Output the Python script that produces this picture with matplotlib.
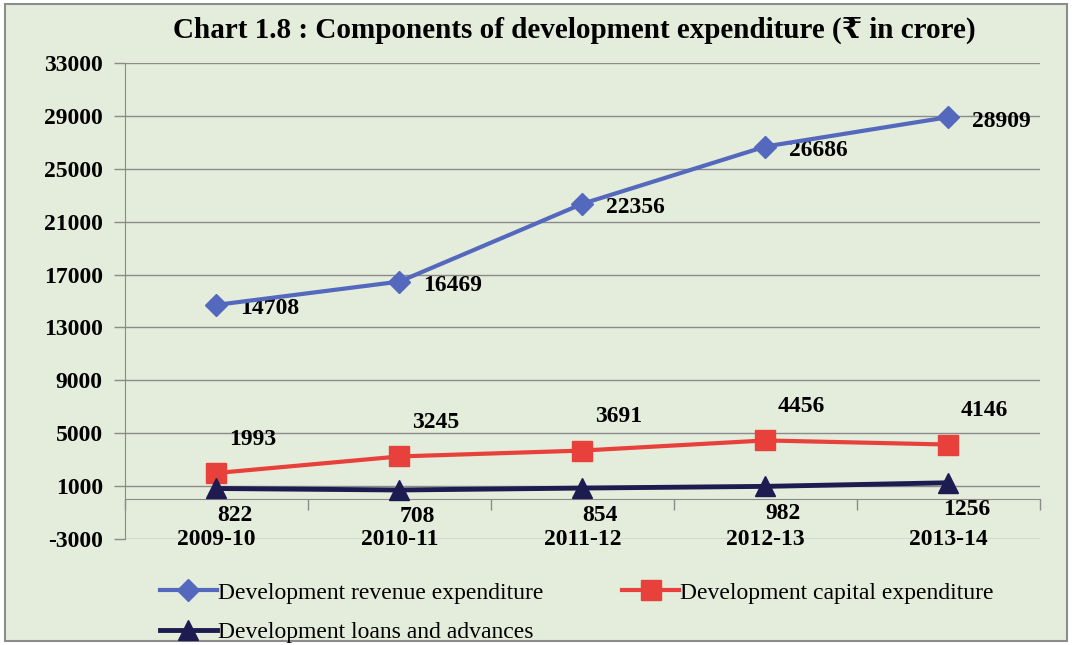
import matplotlib
matplotlib.use("Agg")
import matplotlib.pyplot as plt
from matplotlib.patches import Rectangle

years = ["2009-10", "2010-11", "2011-12", "2012-13", "2013-14"]
revenue = [14708, 16469, 22356, 26686, 28909]
capital = [1993, 3245, 3691, 4456, 4146]
loans = [822, 708, 854, 982, 1256]
y_ticks = list(range(-3000, 33001, 4000))

BG = "#e4ecdb"
GRID = "#8a8a8a"
SERIF = ["Liberation Serif", "DejaVu Serif"]

plt.rcParams["font.family"] = SERIF

fig = plt.figure(figsize=(10.72, 6.45), dpi=100, facecolor="white")
fig.patches.append(Rectangle((0.005, 0.006), 0.99, 0.988, transform=fig.transFigure,
                             facecolor=BG, edgecolor="#8c8c8c", linewidth=1.5, zorder=-10))
ax = fig.add_axes([0.1166, 0.1643, 0.8535, 0.738])
ax.set_facecolor("none")

x = list(range(len(years)))
rev_line, = ax.plot(x, revenue, color="#5468bd", linewidth=3, marker="D", markersize=11,
                    label="Development revenue expenditure", zorder=4)
cap_line, = ax.plot(x, capital, color="#e8403a", linewidth=3, marker="s", markersize=14,
                    label="Development capital expenditure", zorder=4)
loan_line, = ax.plot(x, loans, color="#1c1c50", linewidth=3.5, marker="^", markersize=14,
                     label="Development loans and advances", zorder=5)

label_font = dict(fontsize=17, fontweight="bold", color="black")
for xi, v in zip(x, revenue):
    ax.annotate(str(v), (xi, v), xytext=(24, -4), textcoords="offset pixels",
                ha="left", va="center", **label_font)
for xi, v in zip(x, capital):
    ax.annotate(str(v), (xi, v), xytext=(36, 34), textcoords="offset pixels",
                ha="center", va="center", **label_font)
for xi, v in zip(x, loans):
    ax.annotate(str(v), (xi, v), xytext=(18, -27), textcoords="offset pixels",
                ha="center", va="center", **label_font)

for xi, yr in zip(x, years):
    ax.text(xi, -3000, yr, ha="center", va="center", **label_font)

ax.set_xlim(-0.5, len(years) - 0.5)
ax.set_ylim(-3000, 33000)
ax.set_yticks(y_ticks)
ax.set_yticklabels([str(t) for t in y_ticks], fontsize=17, fontweight="bold")
ax.set_xticks([i - 0.5 for i in range(len(years) + 1)])
ax.set_xticklabels([])
ax.tick_params(axis="y", direction="out", length=8, width=1, color=GRID, pad=8)
ax.tick_params(axis="x", direction="out", length=8, width=1, color=GRID)
ax.grid(axis="y", color=GRID, linewidth=1)
ax.set_axisbelow(True)

for side in ["top", "right"]:
    ax.spines[side].set_visible(False)
ax.spines["bottom"].set_position(("data", 0))
ax.spines["bottom"].set_color(GRID)
ax.spines["left"].set_color(GRID)

fig.text(0.536, 0.953, "Chart 1.8 : Components of development expenditure (\u20b9 in crore)",
         ha="center", va="center", fontsize=21, fontweight="bold", family=SERIF)

fig.legend(handles=[rev_line, loan_line, cap_line], loc="upper center",
           bbox_to_anchor=(0.538, 0.112), ncol=2, frameon=False, fontsize=17,
           handlelength=2.4, handletextpad=0.05, columnspacing=3.35, labelspacing=0.75,
           borderaxespad=0)

fig.savefig("out.png", dpi=100, facecolor=fig.get_facecolor())
